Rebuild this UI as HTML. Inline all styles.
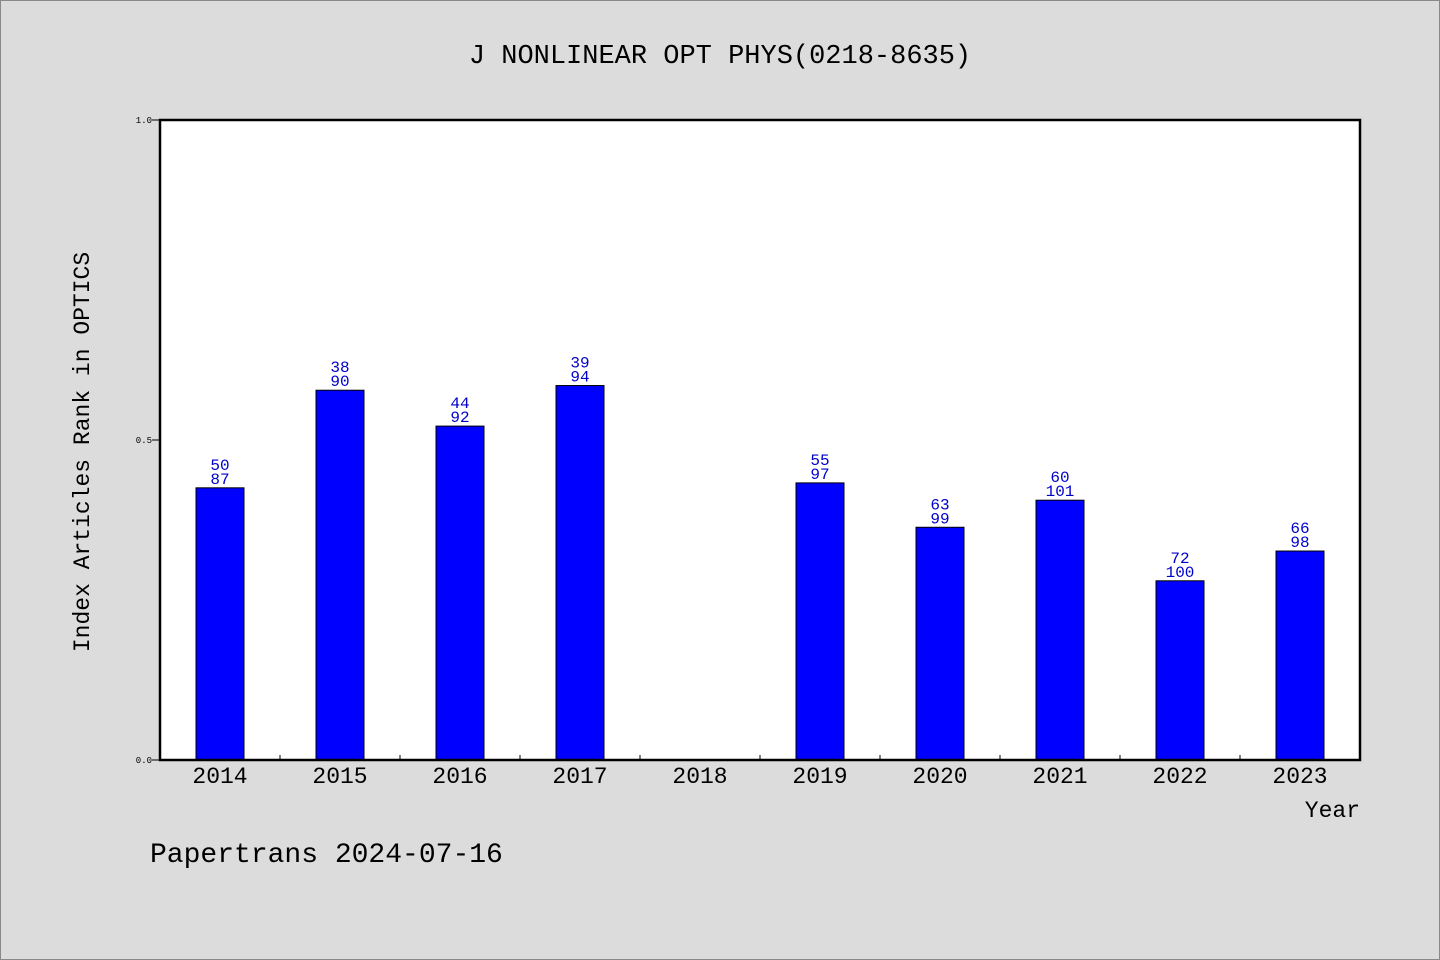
<!DOCTYPE html>
<html><head><meta charset="utf-8"><style>
body{margin:0;background:#dcdcdc;}
svg{display:block;font-family:"WenQuanYi Zen Hei","Liberation Mono",monospace;}
</style></head><body>
<svg id="c" width="1440" height="960" xmlns="http://www.w3.org/2000/svg">
<rect x="0.5" y="0.5" width="1439" height="959" fill="#dcdcdc" stroke="#888"/>
<text x="720" y="63" font-size="27" text-anchor="middle">J NONLINEAR OPT PHYS(0218-8635)</text>
<rect x="160" y="120" width="1200" height="640" fill="#fff"/>
<g id="bars"></g>
<rect x="160" y="120" width="1200" height="640" fill="none" stroke="#000" stroke-width="2.5"/>
<text transform="translate(89,452) rotate(-90)" font-size="23" text-anchor="middle">Index Articles Rank in OPTICS</text>
<text x="1360" y="817" font-size="23" text-anchor="end">Year</text>
<text x="150" y="862" font-size="28">Papertrans 2024-07-16</text>
</svg>
<script>
const years=["2014","2015","2016","2017","2018","2019","2020","2021","2022","2023"];
const ranks=[50,38,44,39,null,55,63,60,72,66];
const totals=[87,90,92,94,null,97,99,101,100,98];
const yTicks=[0,0.5,1.0];
const yTickLabels=["0.0","0.5","1.0"];
const NS="http://www.w3.org/2000/svg";
const x0=160,x1=1360,y0=760,y1=120;
const band=(x1-x0)/years.length;
const X=i=>x0+band*(i+0.5);
const Y=v=>y0-(y0-y1)*v;
const svg=document.getElementById('c');
const g=document.getElementById('bars');
function mk(t,a,p){const e=document.createElementNS(NS,t);for(const k in a)e.setAttribute(k,a[k]);(p||svg).appendChild(e);return e;}
yTicks.forEach((v,i)=>{
 const l=mk('line',{x1:x0-8,x2:x0,y1:Y(v),y2:Y(v),stroke:'#000'});
 
 
 const t=mk('text',{x:x0-8,y:Y(v)+3,'font-size':9,'text-anchor':'end'});
 t.textContent=yTickLabels[i];
 
 
});
years.forEach((yr,i)=>{
 if(i>0){const l=mk('line',{x1:x0+band*i,x2:x0+band*i,y1:y0-5,y2:y0,stroke:'#000'});
 
 }
 const t=mk('text',{x:X(i),y:783,'font-size':23,'text-anchor':'middle'});
 t.textContent=yr;
 
 
 if(ranks[i]==null)return;
 const v=1-ranks[i]/totals[i];
 const r=mk('rect',{x:X(i)-24,y:Y(v),width:48,height:y0-Y(v),fill:'#0000ff',stroke:'#000','stroke-width':1},g);
 
 
 const a=mk('text',{x:X(i),y:Y(v)-18,'font-size':16,fill:'#0000cc','text-anchor':'middle'});
 a.textContent=ranks[i];
 
 
 const b=mk('text',{x:X(i),y:Y(v)-4,'font-size':16,fill:'#0000cc','text-anchor':'middle'});
 b.textContent=totals[i];
 
 
});
</script>
</body></html>
